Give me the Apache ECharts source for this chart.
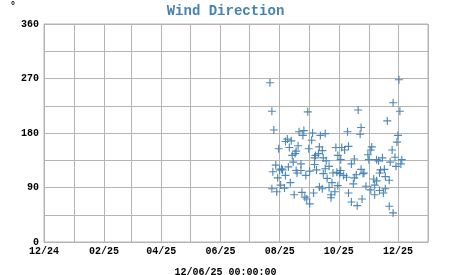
<!DOCTYPE html>
<html><head><meta charset="utf-8">
<script src="https://cdn.jsdelivr.net/npm/echarts@6/dist/echarts.min.js"></script>
<style>html,body{margin:0;padding:0;background:#fff}#c{width:451px;height:275px}</style>
</head><body><div id="c"></div>
<script>
const chartTitle = 'Wind Direction';
const timeStampLabel = '12/06/25 00:00:00';
const unitLabel = '°';
const xMin = '2024-12-01';
const xMax = '2026-01-01';
const yTickLabels = [0, 90, 180, 270, 360];
const dates = [
'2025-07-22','2025-12-02','2025-11-26','2025-07-24','2025-08-30','2025-10-21','2025-12-03','2025-11-20','2025-07-26','2025-10-24',
'2025-08-21','2025-08-26','2025-08-25','2025-09-04','2025-09-12','2025-09-17','2025-10-10','2025-10-23','2025-12-01','2025-08-09',
'2025-08-13','2025-08-07','2025-09-03','2025-11-30','2025-08-20','2025-08-11','2025-07-31','2025-08-31','2025-09-11','2025-09-28',
'2025-10-04','2025-10-11','2025-10-07','2025-09-14','2025-11-04','2025-11-03','2025-11-25','2025-08-18','2025-08-17','2025-08-14',
'2025-09-07','2025-09-10','2025-09-30','2025-10-31','2025-11-28','2025-09-06','2025-09-15','2025-10-03','2025-09-18','2025-10-17',
'2025-11-01','2025-11-09','2025-11-15','2025-11-11','2025-12-05','2025-11-23','2025-08-15','2025-08-23','2025-07-28','2025-08-10',
'2025-09-06','2025-09-21','2025-10-14','2025-11-29','2025-12-04','2025-08-03','2025-08-01','2025-08-04','2025-07-25','2025-08-18',
'2025-08-23','2025-09-01','2025-09-08','2025-09-17','2025-10-03','2025-10-24','2025-11-13','2025-11-17','2025-08-07','2025-07-30',
'2025-08-19','2025-08-28','2025-09-15','2025-09-25','2025-09-29','2025-10-02','2025-10-06','2025-10-09','2025-10-19','2025-10-27',
'2025-10-26','2025-11-18','2025-11-12','2025-09-19','2025-08-12','2025-09-24','2025-10-16','2025-11-06','2025-11-09','2025-11-22',
'2025-10-17','2025-08-02','2025-08-06','2025-09-11','2025-09-14','2025-09-21','2025-09-30','2025-10-29','2025-11-07','2025-11-18',
'2025-07-24','2025-07-29','2025-09-27','2025-11-03','2025-11-12','2025-11-16','2025-10-11','2025-08-16','2025-08-24','2025-08-27',
'2025-09-05','2025-09-23','2025-11-07','2025-10-25','2025-08-29','2025-09-23','2025-09-01','2025-10-14','2025-10-20','2025-11-22',
'2025-11-26'
];
const directions = [
263,268,230,216,215,218,216,200,185,189,
182,184,176,180,176,179,182,178,176,170,
167,166,168,165,159,156,154,154,157,156,
156,158,152,151,157,152,152,150,146,143,
143,146,143,144,140,139,139,136,134,137,
136,136,139,134,136,132,132,129,127,124,
128,125,129,125,129,121,119,119,116,118,
118,117,119,121,118,120,119,120,110,106,
114,110,113,114,115,113,110,107,111,114,
113,108,114,105,98,98,96,104,101,102,
106,94,89,91,88,90,93,92,94,88,
88,83,83,86,85,81,81,78,82,74,
81,78,78,71,71,73,63,66,60,59,
48
];

const points = dates.map((d, i) => [d, directions[i]]);
const gridColor = '#b4b4b4';
const blue = '#4682b4';
const font = 'Liberation Mono';

const chart = echarts.init(document.getElementById('c'), null, {renderer: 'canvas'});
chart.setOption({
  animation: false,
  title: [
    {text: chartTitle, left: 'center', top: -1,
     textStyle: {color: blue, fontFamily: font, fontWeight: 'bold', fontSize: 14}},
    {text: timeStampLabel, left: 'center', top: 262,
     textStyle: {color: '#000', fontFamily: font, fontWeight: 'bold', fontSize: 10}}
  ],
  graphic: [{type: 'text', left: 10, top: 1,
    style: {text: unitLabel, fill: '#000', font: 'bold 10px "Liberation Mono"'}}],
  grid: {left: 44, right: 23, top: 24, bottom: 33, show: true, borderColor: gridColor, borderWidth: 1},
  xAxis: {
    type: 'time', min: xMin, max: xMax,
    minInterval: 28 * 86400000, maxInterval: 31 * 86400000, splitNumber: 13,
    axisLine: {show: true, lineStyle: {color: gridColor}},
    axisTick: {show: false},
    splitLine: {show: true, lineStyle: {color: gridColor, width: 1}},
    axisLabel: {
      color: '#000', fontFamily: font, fontWeight: 'bold', fontSize: 10, margin: 4,
      showMinLabel: true, showMaxLabel: false, hideOverlap: false,
      formatter: function (v) {
        const d = new Date(v);
        if (d.getDate() !== 1 || d.getMonth() % 2 !== 1) return '';
        const mm = String(d.getMonth() + 1).padStart(2, '0');
        const yy = String(d.getFullYear() % 100).padStart(2, '0');
        return mm + '/' + yy;
      }
    }
  },
  yAxis: {
    type: 'value', min: 0, max: 360, interval: 45,
    axisLine: {show: true, lineStyle: {color: gridColor}},
    axisTick: {show: false},
    splitLine: {show: true, lineStyle: {color: gridColor, width: 1}},
    axisLabel: {
      color: '#000', fontFamily: font, fontWeight: 'bold', fontSize: 10, margin: 5,
      formatter: function (v) { return yTickLabels.indexOf(v) >= 0 ? String(v) : ''; }
    }
  },
  series: [{
    type: 'scatter',
    data: points,
    symbol: 'path://M3,0h1v3h3v1h-3v3h-1v-3h-3v-1h3z',
    symbolSize: 8,
    itemStyle: {color: blue, opacity: 0.95}
  }]
});
</script></body></html>
